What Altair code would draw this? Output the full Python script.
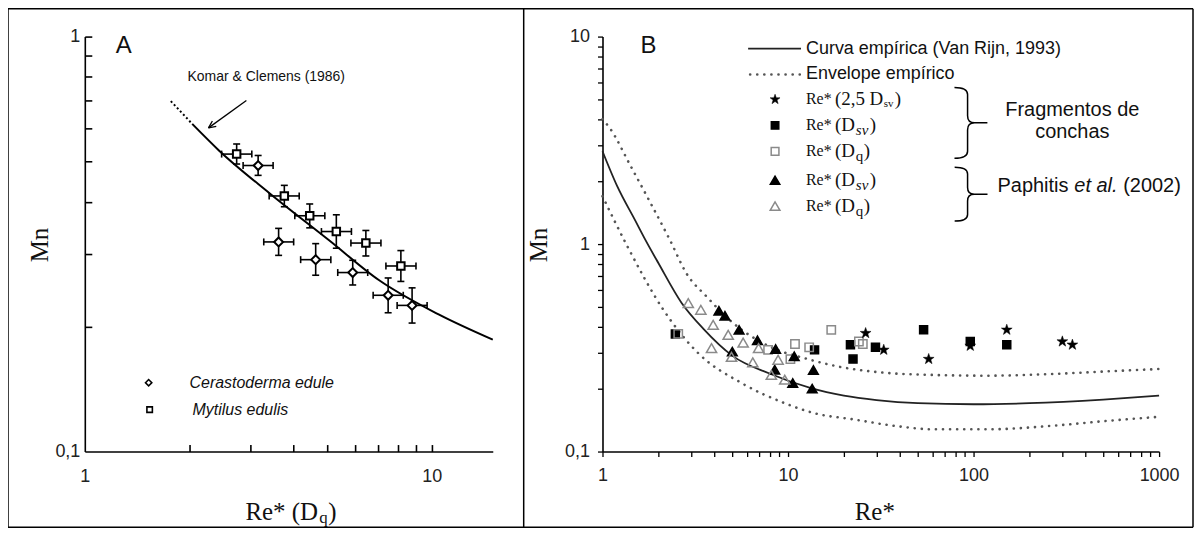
import altair as alt
import pandas as pd

# ---------------- Panel A data ----------------
a_dot_x = [1.77, 2.04]
a_dot_y = [0.699, 0.616]
a_curve_x = [2.04, 2.44, 3.40, 5.06, 7.04, 10.47, 15.0]
a_curve_y = [0.616, 0.531, 0.420, 0.323, 0.259, 0.214, 0.186]

myt_x = [2.74, 3.76, 4.45, 5.31, 6.46, 8.15]
myt_y = [0.521, 0.413, 0.370, 0.339, 0.318, 0.280]
myt_xlo = [2.48, 3.40, 4.03, 4.81, 5.85, 7.38]
myt_xhi = [3.03, 4.15, 4.92, 5.87, 7.14, 9.01]
myt_ylo = [0.493, 0.389, 0.346, 0.309, 0.296, 0.257]
myt_yhi = [0.551, 0.438, 0.395, 0.372, 0.341, 0.305]

cer_x = [3.16, 3.62, 4.63, 5.92, 7.49, 8.78]
cer_y = [0.489, 0.320, 0.290, 0.270, 0.238, 0.225]
cer_xlo = [2.86, 3.28, 4.19, 5.36, 6.78, 7.95]
cer_xhi = [3.49, 4.00, 5.12, 6.54, 8.28, 9.70]
cer_ylo = [0.463, 0.297, 0.266, 0.252, 0.216, 0.204]
cer_yhi = [0.517, 0.345, 0.317, 0.289, 0.262, 0.248]

a_xticks = [2, 3, 4, 5, 6, 7, 8, 9, 10]
a_yticks = [0.2, 0.3, 0.4, 0.5, 0.6, 0.7, 0.8, 0.9, 1.0]

# ---------------- Panel B data ----------------
vr_x = [1, 1.2, 1.5, 1.7, 2.0, 2.67, 3.5, 5.0, 8.0, 13.3, 20, 30, 50, 100, 200, 500, 1000]
vr_y = [2.8, 1.9, 1.3, 1.05, 0.81, 0.52, 0.39, 0.29, 0.237, 0.202, 0.186, 0.177, 0.171, 0.169, 0.171, 0.178, 0.186]
up_x = [1, 1.1, 1.41, 1.8, 2.31, 2.84, 3.64, 5.0, 8.0, 12.8, 18.6, 34.5, 60, 119, 250, 504, 1000]
up_y = [4.0, 3.6, 2.4, 1.6, 1.045, 0.72, 0.558, 0.42, 0.32, 0.279, 0.257, 0.239, 0.234, 0.232, 0.236, 0.243, 0.25]
lo_x = [1, 1.35, 2.13, 3.28, 5.61, 9.6, 13.9, 22.8, 40, 60.7, 120, 263, 500, 1000]
lo_y = [1.7, 0.99, 0.482, 0.298, 0.214, 0.171, 0.153, 0.1426, 0.132, 0.128, 0.128, 0.133, 0.14, 0.147]

tri_open_x = [2.90, 3.39, 3.95, 4.76, 5.73, 3.87, 4.96, 6.94, 6.46, 8.84, 8.13, 9.60]
tri_open_y = [0.519, 0.482, 0.408, 0.365, 0.335, 0.315, 0.286, 0.315, 0.269, 0.277, 0.234, 0.222]
tri_fill_x = [4.24, 4.57, 5.45, 6.84, 8.57, 5.01, 10.8, 8.48, 10.6, 13.5, 13.7]
tri_fill_y = [0.477, 0.451, 0.386, 0.344, 0.312, 0.303, 0.288, 0.248, 0.214, 0.201, 0.247]
sq_open_x = [2.56, 7.81, 10.3, 10.9, 13.0, 17.1, 24.1, 25.3]
sq_open_y = [0.369, 0.309, 0.279, 0.330, 0.318, 0.386, 0.339, 0.330]
sq_fill_x = [2.47, 13.9, 21.7, 22.4, 29.6, 53.8, 96, 151]
sq_fill_y = [0.369, 0.309, 0.327, 0.279, 0.318, 0.386, 0.339, 0.327]
star_x = [26.2, 32.8, 57.3, 96, 151, 301, 341]
star_y = [0.372, 0.309, 0.279, 0.323, 0.386, 0.339, 0.327]

b_xticks = [1, 2, 3, 4, 5, 6, 7, 8, 9, 10, 20, 30, 40, 50, 60, 70, 80, 90,
            100, 200, 300, 400, 500, 600, 700, 800, 900, 1000]
b_yticks = [0.1, 0.2, 0.3, 0.4, 0.5, 0.6, 0.7, 0.8, 0.9, 1, 2, 3, 4, 5, 6, 7, 8, 9, 10]

# ---------------- layout ----------------
WA, WB, H = 409, 558, 416
XB = 519          # left edge of panel B plot, relative to panel A plot
W = XB + WB
SANS = "Liberation Sans"
SERIF = "Liberation Serif"
INK = "#111111"
GRAY = "#8a8a8a"
STAR = ("M0,-1 L0.235,-0.324 L0.951,-0.309 L0.380,0.124 L0.588,0.809 L0,0.4 "
        "L-0.588,0.809 L-0.380,0.124 L-0.951,-0.309 L-0.235,-0.324 Z")


def one():
    return pd.DataFrame({"k": [0]})


def T(text, x, y, size=17, font=SANS, style="normal", align="left", angle=0, color=INK):
    return alt.Chart(pd.DataFrame({"t": [text]})).mark_text(
        align=align, baseline="middle", font=font, fontSize=size,
        fontStyle=style, color=color, angle=angle
    ).encode(text="t:N", x=alt.value(x), y=alt.value(y))


def R(x, y, x2=None, y2=None, width=1.5, color="black", dash=None, cap="butt"):
    kw = dict(color=color, strokeWidth=width, strokeCap=cap)
    if dash is not None:
        kw["strokeDash"] = dash
    enc = dict(x=alt.value(x), y=alt.value(y))
    if x2 is not None:
        enc["x2"] = alt.value(x2)
    if y2 is not None:
        enc["y2"] = alt.value(y2)
    return alt.Chart(one()).mark_rule(**kw).encode(**enc)


def S(x, y, shape, size, filled, color="black", sw=1.5):
    kw = dict(shape=shape, size=size, filled=filled, opacity=1, strokeWidth=sw, stroke=color)
    if filled:
        kw["fill"] = color
    return alt.Chart(one()).mark_point(**kw).encode(x=alt.value(x), y=alt.value(y))


# ================= PANEL A =================
sxA = alt.Scale(type="log", domain=[1, 15], range=[0, WA], nice=False)
syA = alt.Scale(type="log", domain=[0.1, 1], range=[H, 0], nice=False)
axA_x = alt.Axis(values=[1, 10], ticks=False, domainColor="black", domainWidth=1.6, orient="bottom",
                 labelFont=SANS, labelFontSize=18, labelColor="#222", labelPadding=16,
                 labelFlush=False, labelOverlap=False, grid=False, title=None, format="d")
axA_y = alt.Axis(values=[0.1, 1], ticks=False, domainColor="black", domainWidth=1.6, orient="left",
                 labelFont=SANS, labelFontSize=18, labelColor="#222", labelPadding=5,
                 labelFlush=False, labelOverlap=False, grid=False, title=None,
                 labelExpr="datum.value < 0.5 ? '0,1' : '1'")


def XA(f="x"):
    return alt.X(f + ":Q", scale=sxA)


def YA(f="y"):
    return alt.Y(f + ":Q", scale=syA)


a_curve = alt.Chart(pd.DataFrame({"x": a_curve_x, "y": a_curve_y})).mark_line(
    color="black", strokeWidth=2, interpolate="monotone").encode(
    x=alt.X("x:Q", scale=sxA, axis=axA_x), y=alt.Y("y:Q", scale=syA, axis=axA_y))
a_dot = alt.Chart(pd.DataFrame({"x": a_dot_x, "y": a_dot_y})).mark_line(
    color="black", strokeWidth=2, strokeDash=[2, 2.5]).encode(x=XA(), y=YA())


def err_layers(xs, ys, xlo, xhi, ylo, yhi, shape, size):
    df = pd.DataFrame({"x": xs, "y": ys, "xlo": xlo, "xhi": xhi, "ylo": ylo, "yhi": yhi})
    base = alt.Chart(df)
    hbar = base.mark_rule(color="black", strokeWidth=1.6).encode(x=XA("xlo"), x2="xhi:Q", y=YA())
    vbar = base.mark_rule(color="black", strokeWidth=1.6).encode(x=XA(), y=YA("ylo"), y2="yhi:Q")
    tk = dict(color="black", size=7, thickness=1.6, opacity=1)
    c1 = base.mark_tick(orient="vertical", **tk).encode(x=XA("xlo"), y=YA())
    c2 = base.mark_tick(orient="vertical", **tk).encode(x=XA("xhi"), y=YA())
    c3 = base.mark_tick(orient="horizontal", **tk).encode(x=XA(), y=YA("ylo"))
    c4 = base.mark_tick(orient="horizontal", **tk).encode(x=XA(), y=YA("yhi"))
    pts = base.mark_point(shape=shape, size=size, filled=True, fill="white", stroke="black",
                          strokeWidth=2, opacity=1).encode(x=XA(), y=YA())
    return [hbar, vbar, c1, c2, c3, c4, pts]


a_layers = [a_curve, a_dot]
a_layers += err_layers(myt_x, myt_y, myt_xlo, myt_xhi, myt_ylo, myt_yhi, "square", 56)
a_layers += err_layers(cer_x, cer_y, cer_xlo, cer_xhi, cer_ylo, cer_yhi, "diamond", 80)

a_layers += [
    T("A", 31, 9, size=24),
    T("Komar & Clemens (1986)", 103, 41, size=14),
    R(162, 64, x2=124, y2=91.5, width=1.3),
    R(124, 91.5, x2=131.8, y2=90.0, width=1.3),
    R(124, 91.5, x2=127.9, y2=84.6, width=1.3),
    S(64, 347, "diamond", 40, False, sw=1.6),
    T("Cerastoderma edule", 105, 347, size=16, style="italic"),
    S(65, 374, "square", 30, False, sw=1.6),
    T("Mytilus edulis", 108, 374, size=16, style="italic"),
    T("Mn", -45, 209, size=25, font=SERIF, align="center", angle=270),
    T("Re* (D", 161, 477, size=25, font=SERIF),
    T("q", 235, 483, size=17, font=SERIF),
    T(")", 244, 477, size=25, font=SERIF),
]
layerA = alt.layer(*a_layers)

# inward-pointing ticks of panel A: extra axes on the same scales, turned inside
axA_tx = alt.Axis(orient="top", offset=-H, values=a_xticks, labels=False, domain=False,
                  ticks=True, tickSize=7, tickWidth=1.6, tickColor="black", grid=False, title=None)
axA_ty = alt.Axis(orient="right", offset=-W, values=a_yticks, labels=False, domain=False,
                  ticks=True, tickSize=7, tickWidth=1.6, tickColor="black", grid=False, title=None)
layerAt = alt.Chart(pd.DataFrame({"x": a_xticks, "y": a_yticks})).mark_point(opacity=0).encode(
    x=alt.X("x:Q", scale=sxA, axis=axA_tx), y=alt.Y("y:Q", scale=syA, axis=axA_ty))

# ================= PANEL B =================
sxB = alt.Scale(type="log", domain=[1, 1000], range=[XB, XB + WB], nice=False)
syB = alt.Scale(type="log", domain=[0.1, 10], range=[H, 0], nice=False)
axB_x = alt.Axis(values=b_xticks, tickSize=5, tickColor="black", tickWidth=1.3, orient="bottom",
                 domainColor="black", domainWidth=1.6, labelFont=SANS, labelFontSize=18,
                 labelColor="#222", labelPadding=10, labelFlush=False, labelOverlap=False,
                 grid=False, title=None, format="d",
                 labelExpr="indexof([1,10,100,1000], datum.value) >= 0 ? datum.label : ''")
axB_y = alt.Axis(values=b_yticks, tickSize=5, tickColor="black", tickWidth=1.3, orient="left",
                 offset=-XB, domainColor="black", domainWidth=1.6, labelFont=SANS, labelFontSize=18,
                 labelColor="#222", labelPadding=8, labelFlush=False, labelOverlap=False,
                 grid=False, title=None,
                 labelExpr="datum.value == 0.1 ? '0,1' : (datum.value == 1 ? '1' : (datum.value == 10 ? '10' : ''))")


def XBc(f="x"):
    return alt.X(f + ":Q", scale=sxB)


def YBc(f="y"):
    return alt.Y(f + ":Q", scale=syB)


b_vr = alt.Chart(pd.DataFrame({"x": vr_x, "y": vr_y})).mark_line(
    color="#222", strokeWidth=1.8, interpolate="monotone").encode(
    x=alt.X("x:Q", scale=sxB, axis=axB_x), y=alt.Y("y:Q", scale=syB, axis=axB_y))
b_up = alt.Chart(pd.DataFrame({"x": up_x, "y": up_y})).mark_line(
    color="#555", strokeWidth=2.6, strokeDash=[0.1, 7], strokeCap="round", interpolate="monotone").encode(
    x=XBc(), y=YBc())
b_lo = alt.Chart(pd.DataFrame({"x": lo_x, "y": lo_y})).mark_line(
    color="#555", strokeWidth=2.6, strokeDash=[0.1, 7], strokeCap="round", interpolate="monotone").encode(
    x=XBc(), y=YBc())


def pts(xs, ys, shape, size, filled, color, sw=1.5):
    kw = dict(shape=shape, size=size, filled=filled, opacity=1, strokeWidth=sw, stroke=color)
    if filled:
        kw["fill"] = color
    return alt.Chart(pd.DataFrame({"x": xs, "y": ys})).mark_point(**kw).encode(x=XBc(), y=YBc())


b_layers = [
    b_vr, b_up, b_lo,
    pts(sq_fill_x, sq_fill_y, "square", 64, True, "black"),
    pts(sq_open_x, sq_open_y, "square", 70, False, GRAY),
    pts(star_x, star_y, STAR, 130, True, "black", sw=0.5),
    pts(tri_fill_x, tri_fill_y, "triangle-up", 95, True, "black"),
    pts(tri_open_x, tri_open_y, "triangle-up", 105, False, GRAY),
]

brace1 = "M-0.37,-1 Q0,-1 0,-0.8 L0,-0.2 Q0,0 0.2,0 L0.56,0 M0.2,0 Q0,0 0,0.2 L0,0.8 Q0,1 -0.37,1"
brace2 = "M-0.48,-1 Q0,-1 0,-0.75 L0,-0.25 Q0,0 0.25,0 L0.74,0 M0.25,0 Q0,0 0,0.25 L0,0.75 Q0,1 -0.48,1"

o = XB
rows = [63, 89, 115, 144, 170]
b_layers += [
    T("B", o + 38, 9, size=24),
    R(o + 146, 12, x2=o + 199, width=1.8, color="#222"),
    T("Curva empírica (Van Rijn, 1993)", o + 204, 12, size=18),
    R(o + 148, 38, x2=o + 199, width=2.6, color="#555", dash=[0.1, 7], cap="round"),
    T("Envelope empírico", o + 204, 38, size=18),
    S(o + 173, rows[0], STAR, 110, True, sw=0.5),
    S(o + 173, rows[1], "square", 56, True),
    S(o + 173, rows[2], "square", 60, False, color=GRAY),
    S(o + 173, rows[3], "triangle-up", 90, True),
    S(o + 173, rows[4], "triangle-up", 95, False, color=GRAY),
    T("Re*", o + 204, rows[0], size=16, font=SERIF),
    T("(2,5 D", o + 233, rows[0], size=19, font=SERIF),
    T("sv", o + 282, rows[0] + 5, size=11, font=SERIF),
    T(")", o + 293, rows[0], size=19, font=SERIF),
    T("Re*", o + 204, rows[1], size=16, font=SERIF),
    T("(D", o + 233, rows[1], size=19, font=SERIF),
    T("sv", o + 254, rows[1] + 5, size=15, font=SERIF, style="italic"),
    T(")", o + 268, rows[1], size=19, font=SERIF),
    T("Re*", o + 204, rows[2], size=16, font=SERIF),
    T("(D", o + 233, rows[2], size=19, font=SERIF),
    T("q", o + 254, rows[2] + 5, size=15, font=SERIF),
    T(")", o + 262, rows[2], size=19, font=SERIF),
    T("Re*", o + 204, rows[3], size=16, font=SERIF),
    T("(D", o + 233, rows[3], size=19, font=SERIF),
    T("sv", o + 254, rows[3] + 5, size=15, font=SERIF, style="italic"),
    T(")", o + 268, rows[3], size=19, font=SERIF),
    T("Re*", o + 204, rows[4], size=16, font=SERIF),
    T("(D", o + 233, rows[4], size=19, font=SERIF),
    T("q", o + 254, rows[4] + 5, size=15, font=SERIF),
    T(")", o + 262, rows[4], size=19, font=SERIF),
    S(o + 366, 86.5, brace1, 5041, False, sw=1.5),
    S(o + 366, 158, brace2, 2916, False, sw=1.5),
    T("Fragmentos de", o + 471, 74, size=20, align="center"),
    T("conchas", o + 471, 96, size=20, align="center"),
    T("Paphitis", o + 396, 150, size=20),
    T("et al.", o + 473, 150, size=20, style="italic"),
    T("(2002)", o + 522, 150, size=20),
    T("Mn", o - 64, 209, size=25, font=SERIF, align="center", angle=270),
    T("Re*", o + 273, 477, size=25, font=SERIF, align="center"),
    # frame of the whole figure
    R(-77, -28, y2=492), R(-77, -28, x2=1111), R(-77, 492, x2=1111),
    R(1111, -28, y2=492), R(440, -28, y2=492),
]
layerB = alt.layer(*b_layers)

chart = alt.layer(layerA, layerB, layerAt).resolve_scale(x="independent", y="independent").properties(
    width=W, height=H,
    autosize=alt.AutoSizeParams(type="none"),
    padding={"left": 77, "top": 28, "right": 35, "bottom": 78},
).configure_view(stroke=None)
chart.save("out.html", embed_options={"renderer": "svg", "actions": False})
